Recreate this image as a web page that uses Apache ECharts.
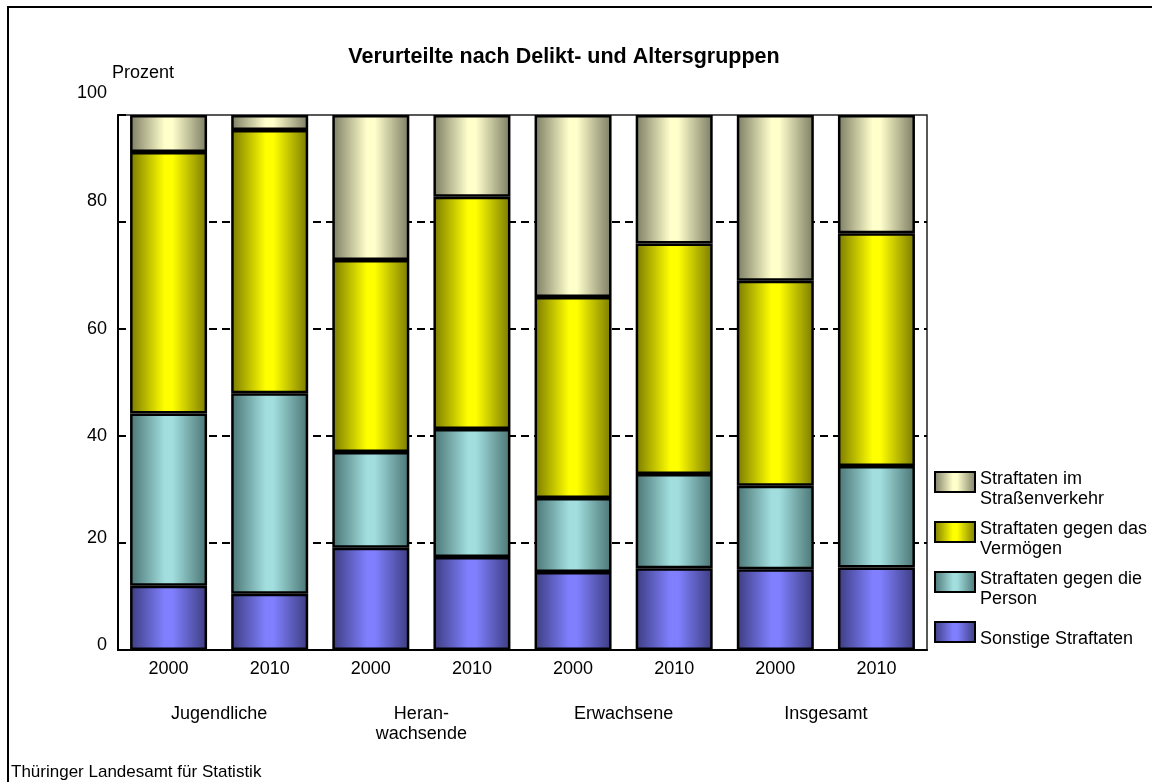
<!DOCTYPE html>
<html>
<head>
<meta charset="utf-8">
<title>Verurteilte nach Delikt- und Altersgruppen</title>
<script src="https://cdn.jsdelivr.net/npm/echarts@6/dist/echarts.min.js"></script>
<style>
    html, body { margin: 0; padding: 0; background: #fff; }
    .chart { width: 1152px; height: 782px; }
</style>
</head>
<body>
<div class="chart"></div>
<script>
// Daten
var jahre = ['2000', '2010', '2000', '2010', '2000', '2010', '2000', '2010'];
var gruppen = ['Jugendliche', 'Heran-\nwachsende', 'Erwachsene', 'Insgesamt'];
var yTicks = [0, 20, 40, 60, 80, 100];

var sonstige = [12.0, 10.5, 19.1, 17.4, 14.6, 15.3, 15.1, 15.4];
var person = [32.2, 37.5, 17.9, 23.9, 13.8, 17.6, 15.6, 19.0];
var vermoegen = [48.9, 49.2, 35.9, 43.4, 37.6, 43.1, 38.3, 43.5];
var strasse = [6.9, 2.8, 27.1, 15.3, 34.0, 24.0, 31.0, 22.1];

(function() {
    var myChart = echarts.init(document.querySelector('.chart'));
    var font = 'Liberation Sans, Arial, sans-serif';

    // "Zylinder"-Verlauf: Rand dunkel, Mitte hell
    function zylinder(dunkel, hell) {
        return {
            type: 'linear', x: 0, y: 0, x2: 1, y2: 0,
            colorStops: [
                { offset: 0, color: dunkel },
                { offset: 0.45, color: hell },
                { offset: 0.55, color: hell },
                { offset: 1, color: dunkel }
            ]
        };
    }

    function serie(name, data, farbe) {
        return {
            name: name,
            type: 'bar',
            stack: 'gesamt',
            barWidth: 77,
            data: data,
            itemStyle: { color: farbe, borderColor: '#000', borderWidth: 2.5 }
        };
    }

    // kleine Verschiebung der y-Beschriftungen wie im Original
    var labelRich = {
        v0: { padding: [0, 0, 10, 0] },
        v20: { padding: [0, 0, 10, 0] },
        v40: { padding: [0, 0, 0, 0] },
        v60: { padding: [0, 0, 0, 0] },
        v80: { padding: [0, 0, 42, 0] },
        v100: { padding: [0, 0, 44, 0] }
    };

    var textStyle = { fontFamily: font, fontSize: 18, color: '#000' };

    // Legende: Leerzeile oben, damit der Text etwas tiefer als das Symbol steht
    var legendText = {
        fontFamily: font, fontSize: 18, color: '#000', lineHeight: 20,
        rich: { s: { fontSize: 2, lineHeight: 14 } }
    };
    function legendFormat(name) {
        return '{s| }\n' + name;
    }

    var option = {
        animation: false,
        backgroundColor: '#fff',
        title: {
            text: 'Verurteilte nach Delikt- und Altersgruppen',
            left: 559,
            top: 41,
            textAlign: 'center',
            textStyle: { fontFamily: font, fontSize: 21.5, fontWeight: 'bold', color: '#000' }
        },
        grid: {
            left: 118,
            right: 225,
            top: 115,
            bottom: 132,
            show: true,
            borderColor: '#222',
            borderWidth: 1.5
        },
        legend: [{
            orient: 'vertical',
            left: 934,
            top: 455,
            padding: 0,
            icon: 'rect',
            itemWidth: 40,
            itemHeight: 20,
            itemGap: -4,
            data: ['Straftaten im\nStraßenverkehr', 'Straftaten gegen das\nVermögen', 'Straftaten gegen die\nPerson'],
            formatter: legendFormat,
            textStyle: legendText
        }, {
            orient: 'vertical',
            left: 934,
            top: 615,
            padding: 0,
            icon: 'rect',
            itemWidth: 40,
            itemHeight: 20,
            data: ['Sonstige Straftaten'],
            formatter: legendFormat,
            textStyle: legendText
        }],
        xAxis: [{
            type: 'category',
            data: jahre,
            axisLine: { lineStyle: { color: '#000', width: 2 } },
            axisTick: { show: false },
            axisLabel: Object.assign({ margin: 10 }, textStyle)
        }, {
            type: 'category',
            data: gruppen,
            position: 'bottom',
            offset: 46,
            axisLine: { show: false },
            axisTick: { show: false },
            axisLabel: Object.assign({ margin: 8, lineHeight: 20 }, textStyle)
        }],
        yAxis: {
            type: 'value',
            min: yTicks[0],
            max: yTicks[yTicks.length - 1],
            interval: 20,
            axisLine: { show: true, lineStyle: { color: '#000', width: 2 } },
            axisTick: { show: true, inside: true, length: 8, lineStyle: { color: '#000', width: 2 } },
            axisLabel: Object.assign({
                margin: 11,
                formatter: function(v) { return '{v' + v + '|' + v + '}'; },
                rich: labelRich
            }, textStyle),
            splitLine: {
                show: true,
                showMinLine: false,
                showMaxLine: false,
                lineStyle: { color: '#000', width: 2, type: [8, 5] }
            }
        },
        series: [
            serie('Sonstige Straftaten', sonstige, zylinder('#3c3c80', '#8080ff')),
            serie('Straftaten gegen die\nPerson', person, zylinder('#4a7474', '#a2dede')),
            serie('Straftaten gegen das\nVermögen', vermoegen, zylinder('#7a7a00', '#ffff00')),
            serie('Straftaten im\nStraßenverkehr', strasse, zylinder('#7c7c64', '#ffffcc'))
        ],
        graphic: [{
            type: 'rect',
            shape: { x: 8, y: 7, width: 1300, height: 900 },
            style: { fill: 'none', stroke: '#000', lineWidth: 2 },
            silent: true
        }, {
            type: 'text',
            left: 112,
            top: 64,
            style: { text: 'Prozent', fontFamily: font, fontSize: 18, fill: '#000' }
        }, {
            type: 'text',
            left: 11,
            top: 764,
            style: { text: 'Thüringer Landesamt für Statistik', fontFamily: font, fontSize: 17, fill: '#000' }
        }]
    };

    myChart.setOption(option);
    window.addEventListener('resize', function() {
        myChart.resize();
    });
})();
</script>
</body>
</html>
